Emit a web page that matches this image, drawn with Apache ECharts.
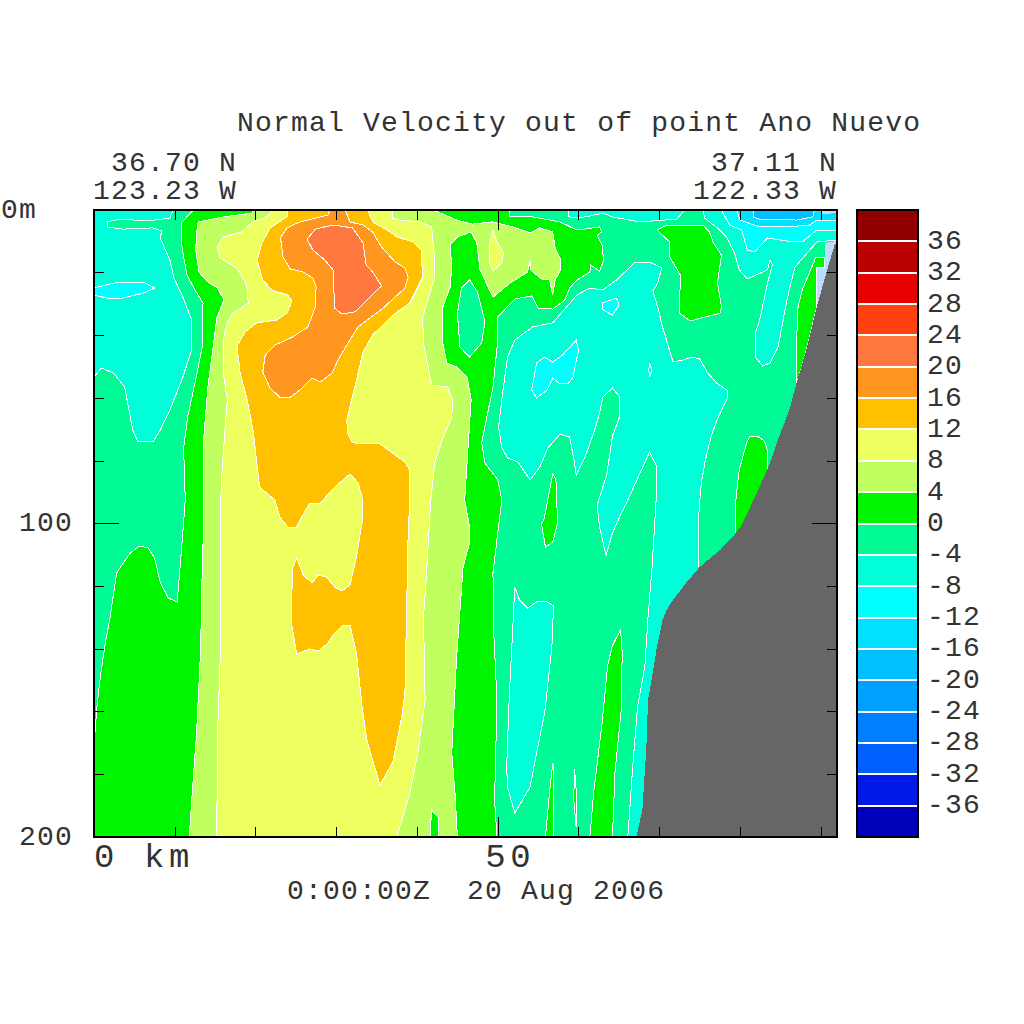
<!DOCTYPE html>
<html><head><meta charset="utf-8">
<style>
html,body{margin:0;padding:0;background:#fff}
#c{width:1024px;height:1024px}
svg text{letter-spacing:.043em}
svg text[style*="34px"]{letter-spacing:.135em}
svg path{shape-rendering:crispEdges}
</style>
<script src="https://cdn.jsdelivr.net/npm/echarts@6/dist/echarts.min.js"></script>
</head><body><div id="c"></div>
<script>
// Colour scale: lower limit of each band and its colour
const levels = [-40,-36,-32,-28,-24,-20,-16,-12,-8,-4,0,4,8,12,16,20,24,28,32,36];
const bandColors = ['#0000BB','#0018E8','#0060FF','#0080FF','#00A0FF','#00C0FF','#00E0FF','#00FFFF','#00FFD8','#00FA96','#00F500','#C0FF60','#EEFF60','#FFC000','#FF9620','#FF7840','#FF4010','#E80000','#BB0000','#900000'];
const axisMaxKm = 92, axisMaxDepth = 200;

// Contour regions as [distance km, depth m]
const wholeSection = [[0,0],[92,0],[92,200],[0,200]];
const posLeft = [[0,170.7],[.4,157.3],[.9,146.7],[1.4,138.1],[2,129.8],[2.8,115.8],[3.2,114.2],[4.5,109.4],[5.6,107.2],[6.7,107.8],[7.5,111],[8.2,118.7],[9.2,123.8],[10.3,125],[10.6,115.8],[11,103],[11.3,92.5],[11.1,75.9],[11.6,66],[12.5,55.2],[13.4,43.7],[13.5,29.7],[12.5,25.5],[11.5,20.7],[10.8,10.5],[10.8,4.1],[12.3,0],[19.6,0],[19.6,200],[0,200]];
const posCentre = [[41.6,0],[51.5,0],[51.5,2.2],[54.3,2.2],[57.7,3.8],[59.8,6.4],[62.6,5.4],[62.9,7],[62.3,8],[62.9,11.2],[63.1,16],[62.6,19.5],[61.5,17.5],[61.4,19.8],[59.8,22.3],[58.9,24.9],[58.3,28.7],[56.8,31.6],[55,31.3],[54.2,27.4],[52.1,28.4],[50,34.1],[50,41.5],[49.4,56.5],[48,74.3],[48.4,80.7],[50,86.1],[50.5,92.5],[50,103],[49.4,115.8],[49.5,134.9],[49.9,156.3],[49.6,188.2],[49.9,200],[41.6,200]];
const posTopRight = [[69.7,6.4],[70.7,5.1],[75.4,4.8],[76.2,7],[76.7,10.5],[77.7,14.4],[77.2,23.3],[77.7,30.9],[77.5,32.9],[73.8,35.4],[72.5,32.9],[72.6,20.7],[71.3,15],[71.3,10.2]];
const posSlopeUpper = [[89.4,15],[90.5,15],[90.5,18.5],[89.5,18.5],[89.5,30.9],[88.2,44.7],[87,55.5],[87,44.7],[87.1,31.9],[87.7,25.5]];
const posSlopeLower = [[79.4,103.7],[79.5,91.5],[79.9,82.9],[80.8,74.3],[81.2,72.4],[82.1,72.1],[83,73.7],[83.4,76.6],[83.4,82.9],[83.4,95],[79.4,108]];
const posIslandMid = [[56.8,84.2],[55.7,98.9],[55.4,99.9],[55.9,107.5],[56.8,105.9],[57.4,99.9],[57.2,86.1]];
const posTongueA = [[65.2,133.9],[64.2,138.9],[63.6,145.2],[62.9,164],[61.9,185],[61.4,200],[64.2,200],[64.5,179.6],[65.3,158.9],[65.4,141.1]];
const posTongueB = [[56.8,176.4],[56.4,185.9],[55.9,200],[56.9,200],[56.9,177.7]];
const posSlit = [[59.5,178.4],[59.4,188.2],[59.7,196.8],[59.8,188.2]];
const warm4 = [[19.6,0],[19.6,1],[16,2.2],[12.9,3.8],[12.7,7.3],[12.6,12.8],[13,19.8],[14.1,23],[15.3,24.9],[16.1,28.7],[15.2,34.5],[14.7,44.7],[14.1,56.5],[13.7,69.2],[13.5,75.6],[13.6,98.9],[13.4,114.2],[13.2,140.4],[12.7,166.8],[12.1,188.2],[11.8,200],[45,200],[44.7,186],[44.3,173.2],[44.9,142.6],[45.7,113.9],[46.5,106.2],[46.5,101.1],[45.9,92.5],[46.7,60.6],[46.2,53.3],[44.9,50.1],[43.7,48.8],[43.1,41.5],[43.2,30.9],[44.1,24.6],[44.3,18.2],[44.1,11.2],[45,8.6],[46.7,7],[47.4,10.5],[47.8,19.1],[49.4,27.8],[51.5,23.3],[53.7,19.8],[54,16],[54.1,19.1],[55.4,22],[56.4,22.3],[56.8,27.1],[57.1,22.3],[57.8,19.1],[57.7,15.3],[57.1,12.1],[56.8,7],[55.2,5.7],[54,7.3],[51.9,5.4],[49.3,3.8],[46.8,4.5],[44.9,3.2],[42,0]];
const holeOval = [[46.5,22.3],[47.5,26.2],[48.4,35.7],[48,42.4],[46.5,46.9],[45.3,43.7],[45,32.9],[45.5,24.9]];
const posBottomIsland = [[41.6,200],[41.8,191.4],[42.6,193.6],[42.6,200]];
const warm8 = [[22.1,0],[21.4,2.2],[19.7,3.8],[18.3,7],[16,8.6],[15.3,11.8],[15.6,15.3],[17.7,18.5],[18.9,23.9],[19.1,29.7],[17.2,32.9],[16.5,36],[16,41.5],[16,52],[16.5,60.6],[16.3,67],[15.8,85.2],[15.7,92.5],[15.7,137.2],[15.3,166.8],[15.2,200],[37.5,200],[39.1,186],[40.1,173.2],[41,156.3],[40.8,129.8],[41.1,119],[41.7,92.5],[42.2,80.6],[43.1,73.4],[44.3,66],[44.4,60.6],[43.8,56.5],[41.8,55.8],[40.8,42.4],[40.7,34.1],[42.2,21.4],[42.2,16],[41.8,5.4],[40.3,3.8],[37.9,3.2],[37,2.6],[36.9,0]];
const warm8Island = [[49.4,6.4],[49.9,10.2],[50.7,13.7],[50.5,16.9],[49.4,19.5],[49,16.9],[49,10.5]];
const warm12 = [[24,0],[23.9,2.2],[21.8,5.7],[20.8,10.5],[20.2,16],[20.9,22.3],[22,25.5],[24,27.1],[24.5,29],[23.9,32.9],[22.6,35.1],[20.2,36],[18.7,38.9],[17.7,43.4],[18.1,52],[18.9,59.7],[19.7,70.2],[20.5,88.4],[22.4,92.5],[23,97.9],[24,101.1],[25,101.4],[25.5,98.9],[26.7,93.5],[28,93.5],[29.8,88.4],[31.7,84.2],[32.7,87.1],[33.3,92.5],[33.3,97.9],[32.5,110.7],[31.7,119.6],[30.7,121.5],[29.8,120.3],[28.8,117.1],[27.8,116.4],[27,119],[25.9,116.4],[25.1,111],[24.6,114.2],[24.4,130.8],[25.1,141.6],[26.7,140],[27.8,140.7],[29,138.1],[29.6,135.6],[30.8,132.4],[31.7,132.4],[32.5,141.3],[33.2,158.5],[33.8,169.1],[35.4,183.4],[37,176.1],[38.1,161.7],[38.5,154],[38.9,103],[39.1,92.5],[39.1,82.9],[38.5,80.4],[35.4,74.6],[32,74.3],[31.4,71.1],[31.3,67],[32.5,54.2],[33.3,45.3],[34.5,39.9],[37,33.5],[37.9,31.9],[39.1,29.7],[40.7,21.4],[40.5,12.8],[39.5,10.2],[37.5,8.6],[36.3,6.4],[34.5,3.8],[33.9,0]];
const warm16 = [[29.2,0],[29,1.6],[25.5,3.8],[23.9,5.7],[23.1,8.9],[23.4,15],[24.3,18.8],[25.9,19.8],[27.1,21.7],[27.5,24.6],[27.4,30.9],[26.5,37.3],[24.6,40.5],[22.4,43.1],[21.2,46.3],[20.9,51.7],[21.8,56.8],[23,59.7],[24.3,59.7],[25.5,57.4],[27,53.6],[28,54.9],[29.5,52],[30.2,47.9],[31.9,40.5],[32.7,37.3],[35.8,31.3],[38.5,24.9],[38.9,21.4],[38.5,18.5],[37.3,16.6],[35.6,11.8],[34.5,7],[33.3,4.8],[31.7,3.8],[31.1,0]];
const warm20 = [[26.4,9.3],[27.4,6.1],[29.6,4.8],[32,5.7],[33.3,10.5],[33.7,17.5],[34.5,19.8],[35.6,24.2],[33.8,28.7],[32.3,32.5],[30.7,33.2],[29.8,31.3],[29.6,19.1],[28.6,16],[27.1,12.8]];
const coolLeft = [[0,0],[9.8,0],[9.4,2.6],[6.6,3.5],[3.2,2.9],[1.6,3.8],[1.7,5.4],[3.6,6.1],[7.3,5.7],[8.4,6.7],[8.2,8.9],[9.4,16],[9.9,21.7],[11,27.8],[12.1,35.1],[12.1,44.7],[11,53.3],[9.4,63.8],[8.2,70.2],[7.3,74],[5.4,73.7],[4.8,70.2],[3.8,56.5],[2.4,52],[.9,50.4],[0,53.3]];
const coolLeftCore = [[0,24.9],[2.4,23.3],[6.1,23],[7.5,24.9],[6.1,26.5],[3.6,28.1],[1.6,28.1],[0,27.1]];
const coolCentre = [[52.1,41.5],[54.3,37.3],[56.8,36],[59.8,27.1],[61.4,24.9],[63,25.5],[64.7,22.3],[67,16.6],[68.8,16.6],[70.3,18.5],[69.8,23.3],[69.2,25.8],[69.8,30.9],[70.4,37.3],[71.7,48.5],[72.9,47.9],[74,46.9],[75,47.5],[76,52],[77.1,55.2],[78.5,57.7],[78.5,59.6],[77.2,66.6],[76.4,72.4],[75.7,79.8],[75.2,87.1],[74.9,96.7],[74.9,113.9],[77.5,124.4],[72.5,200],[66.1,200],[66.7,177.7],[67.3,158.5],[68.2,145.8],[68.6,129.8],[69.1,113.9],[69.6,92.5],[69.7,82],[68.8,77.2],[66.1,92.5],[65.1,97.9],[64.2,103],[63.4,110.2],[62.6,101.1],[62.3,94.2],[63.5,84.3],[64.2,72.1],[65.1,65.9],[65.1,59.6],[64.2,56.8],[63,59.7],[62.6,64.8],[62,70.2],[60.8,78.8],[59.7,84.6],[59.5,80.7],[58.9,72.4],[57.7,71.5],[56.2,75.9],[55.2,82],[54,86.1],[52.5,80.4],[51.2,79.1],[50.5,75.9],[50.1,69.2],[50.6,58.4],[51.2,46.9]];
const coreA = [[59.7,41.5],[60,44.7],[59.3,53.3],[58.7,55.5],[57.7,55.5],[56.8,53.6],[56.1,57.4],[54.8,60],[54.2,57.4],[54.8,48.8],[55.8,46.9],[56.8,48.5],[58,46.3]];
const coreB = [[62.9,29.7],[64.7,28.1],[65,30.3],[64.2,33.5],[63,31.9]];
const coreC = [[68.8,48.8],[69.1,51],[68.8,53.3],[68.7,51]];
const coolLower = [[52.1,120.3],[52.7,124.4],[53.7,127],[54.8,125],[56.1,125],[56.9,126.3],[56.7,139.4],[55.8,160.5],[54.8,173.2],[54,184],[52.1,192.4],[51.2,184],[51.1,177.7],[51.4,156.3],[51.9,130.8]];
const coolTopSliver = [[58.7,0],[58.8,2.2],[59.9,2.6],[61.4,1.9],[63,1],[64.2,2.2],[67.6,3.8],[72.2,2.9],[73.1,0]];
const coolTopRight = [[75.4,0],[75.6,2.6],[77.2,5.7],[78.3,8.6],[79.3,13.7],[79.9,19.1],[80.9,22],[83.4,19.1],[83.7,16],[84,17.5],[83.4,23.3],[82.4,35.4],[81.9,39.2],[81.9,46.9],[82.8,49.8],[83.7,48.8],[84.7,43.7],[85.8,28.7],[86.8,18.2],[89.5,10.2],[92,9.6],[92,0]];
const coolTR12 = [[77.7,0],[78.7,4.8],[80.2,6.4],[80.9,12.8],[81.8,13.4],[83.4,8.9],[86.5,10.2],[87.7,10.2],[89.5,6.4],[92,6.4],[92,0]];
const coolTR16 = [[79.6,0],[80,3.2],[82.1,5.1],[85.8,5.4],[88.6,4.8],[89.5,3.2],[92,3.2],[92,0]];
const coolTR20 = [[81.6,0],[81.6,2.2],[82.4,2.9],[87,3.2],[89,2.2],[89.2,0]];
const shelfCorner = [[90.1,0],[92,0],[92,1],[90.2,1.3]];
const shelfSlope = [[90.5,10.5],[92,9.9],[92,16],[91.1,25.5],[89.5,30.9],[89.5,18.5],[90.5,18.5]];
const seabed = [[92,10.5],[91.7,11.2],[90.7,19.8],[89.5,30.9],[88.2,44.7],[87.1,54.2],[86.1,63.8],[84.9,71.8],[83.7,80.7],[82.4,88.4],[81.2,95.1],[80.2,100.5],[79.1,104.3],[77.5,108.5],[76.2,111.3],[75,113.9],[73.4,118.7],[71.7,124.4],[70.9,127.6],[70.4,130.8],[69.7,139.4],[69.1,149],[68.6,156.3],[68.4,171.3],[67.9,191.4],[67.2,199.4],[67.2,200],[92,200]];

const regions = [
 [-4,wholeSection],
 [0,posLeft],[0,posCentre],[-4,holeOval],[0,posTopRight],[0,posSlopeUpper],[0,posSlopeLower],[0,posIslandMid],[0,posTongueA],[0,posTongueB],[0,posSlit],
 [4,warm4],[0,posBottomIsland],[8,warm8],[8,warm8Island],[12,warm12],[16,warm16],[20,warm20],
 [-8,coolLeft],[-12,coolLeftCore],[-8,coolCentre],[-12,coreA],[-12,coreB],[-12,coreC],[-8,coolLower],[-8,coolTopSliver],
 [-8,coolTopRight],[-12,coolTR12],[-16,coolTR16],[-20,coolTR20],
 ['shelf',shelfCorner],['shelf',shelfSlope],['bed',seabed]
];
const shelfColor = '#BBDDFF', bedColor = '#666666';
const FONT = 'Liberation Mono', FS = 28, FSB = 34, INK = '#333';

const chart = echarts.init(document.getElementById('c'), null, {renderer:'svg'});
const line = {show:true,lineStyle:{color:'#000',width:2}};
function frameAxis(extra){return Object.assign({type:'value',z:5,splitLine:{show:false},axisLine:Object.assign({onZero:false},line),axisLabel:{show:false},axisTick:{show:true,inside:true,length:10,lineStyle:{color:'#000',width:1}}},extra);}
const txt = (text,left,top,align,size)=>({text,left,top,textAlign:align||'left',padding:0,textStyle:{fontFamily:FONT,fontWeight:'normal',fontSize:size||FS,color:INK}});

chart.setOption({
 animation:false,
 backgroundColor:'#fff',
 title:[
  txt('Normal Velocity out of point Ano Nuevo',237,109),
  txt('36.70 N',237,149,'right'),
  txt('123.23 W',237,177,'right'),
  txt('37.11 N',837,149,'right'),
  txt('122.33 W',837,177,'right'),
  txt('0:00:00Z  20 Aug 2006',287,877)
 ],
 grid:[
  {left:94,top:210,width:743,height:627,outerBoundsMode:'none'},
  {left:857,top:210,width:61,height:627,outerBoundsMode:'none'}
 ],
 xAxis:[
  frameAxis({gridIndex:0,min:0,max:axisMaxKm,interval:10,position:'bottom'}),
  frameAxis({gridIndex:0,min:0,max:axisMaxKm,interval:10,position:'top'}),
  frameAxis({gridIndex:0,min:0,max:axisMaxKm,interval:50,position:'bottom',
    axisTick:{show:true,inside:true,length:20,lineStyle:{color:'#000',width:1}},
    axisLabel:{show:true,margin:4,alignMinLabel:'left',showMaxLabel:false,fontFamily:FONT,fontSize:FSB,color:INK,
      formatter:v=>v===0?'0 km':(v===50?' 50':'')}}),
  frameAxis({gridIndex:0,min:0,max:axisMaxKm,interval:50,position:'top',
    axisTick:{show:true,inside:true,length:20,lineStyle:{color:'#000',width:1}}}),
  frameAxis({gridIndex:1,min:0,max:1,position:'bottom',axisTick:{show:false}}),
  frameAxis({gridIndex:1,min:0,max:1,position:'top',axisTick:{show:false}})
 ],
 yAxis:[
  frameAxis({gridIndex:0,min:0,max:axisMaxDepth,interval:20,inverse:true,position:'left'}),
  frameAxis({gridIndex:0,min:0,max:axisMaxDepth,interval:20,inverse:true,position:'right'}),
  frameAxis({gridIndex:0,min:0,max:axisMaxDepth,interval:100,inverse:true,position:'left',
    axisTick:{show:true,inside:true,length:25,lineStyle:{color:'#000',width:1}},
    axisLabel:{show:true,margin:21,fontFamily:FONT,fontSize:FS,color:INK,
      formatter:v=>v===0?'0m  ':String(v)}}),
  frameAxis({gridIndex:0,min:0,max:axisMaxDepth,interval:100,inverse:true,position:'right',
    axisTick:{show:true,inside:true,length:25,lineStyle:{color:'#000',width:1}}}),
  frameAxis({gridIndex:1,min:-40,max:40,interval:4,position:'right',axisTick:{show:false},
    axisLabel:{show:true,margin:9,align:'left',fontFamily:FONT,fontSize:FS,color:INK,
      formatter:v=>Math.abs(v)===40?'':String(v)}}),
  frameAxis({gridIndex:1,min:-40,max:40,position:'left',axisTick:{show:false}})
 ],
 series:[
  {type:'custom',coordinateSystem:'cartesian2d',xAxisIndex:0,yAxisIndex:0,clip:true,silent:true,z:2,
   data:regions.map((r,i)=>[i]),
   encode:{x:0,y:0},
   renderItem:(p,api)=>{
     const [lvl,poly]=regions[p.dataIndex];
     const i=levels.indexOf(lvl);
     const fill=lvl==='shelf'?shelfColor:lvl==='bed'?bedColor:bandColors[i];
     const plain=lvl==='shelf'||lvl==='bed';
     return {type:'polygon',shape:{points:poly.map(q=>api.coord(q))},
       style:{fill,stroke:plain?null:'#fff',lineWidth:1}};
   }},
  {type:'custom',coordinateSystem:'cartesian2d',xAxisIndex:4,yAxisIndex:4,silent:true,z:2,
   data:levels.map(v=>[0,v]),
   encode:{x:0,y:1},
   renderItem:(p,api)=>{
     const lo=api.value(1);
     const a=api.coord([0,lo+4]),b=api.coord([1,lo]);
     return {type:'rect',shape:{x:a[0],y:a[1],width:b[0]-a[0],height:b[1]-a[1]},
       style:{fill:bandColors[p.dataIndex],stroke:'#fff',lineWidth:2}};
   }}
 ]
});
</script></body></html>
